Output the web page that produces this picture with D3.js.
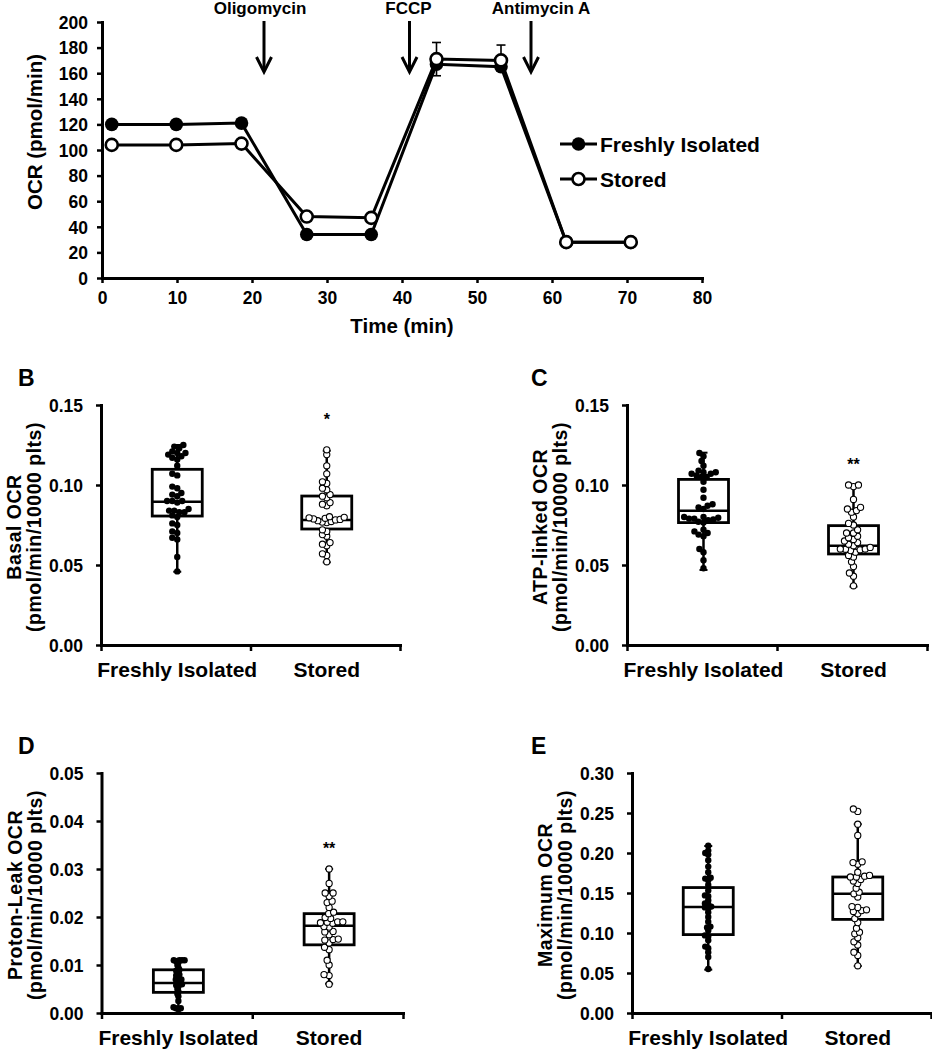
<!DOCTYPE html>
<html><head><meta charset="utf-8">
<script src="https://cdn.jsdelivr.net/npm/d3@7"></script>
<style>
body{margin:0;background:#fff}
svg{display:block}
text{font-family:"Liberation Sans",Arial,sans-serif;font-weight:bold;fill:#000}
</style>
</head><body>
<svg id="c" width="932" height="1050"></svg>
<script>
// ---------------- DATA ----------------
// Panel A
const timeMin   = [1.3, 9.9, 18.6, 27.3, 35.9, 44.6, 53.2, 61.9, 70.5];
const ocrFresh  = [120, 120, 121, 34, 34, 167, 165, 28, 28];
const ocrStored = [104, 104, 105, 48, 47, 171, 170, 28, 28];
const errFresh  = [1.5, 1.5, 1.5, 1.5, 1.5, 9, 3, 1, 1];
const errStored = [1.5, 1.5, 1.5, 1.5, 1.5, 13, 12, 1, 1];
const injections = ["Oligomycin", "FCCP", "Antimycin A"];
const injectionTimes = [21.6, 41.0, 57.2];
const ocrTicks = [0, 20, 40, 60, 80, 100, 120, 140, 160, 180, 200];
const timeTicks = [0, 10, 20, 30, 40, 50, 60, 70, 80];
const seriesNames = ["Freshly Isolated", "Stored"];

// Panels B-E
const categories = ["Freshly Isolated", "Stored"];
const ticksBC = [0, 0.05, 0.10, 0.15];
const ticksD  = [0, 0.01, 0.02, 0.03, 0.04, 0.05];
const ticksE  = [0, 0.05, 0.10, 0.15, 0.20, 0.25, 0.30];

// B: Basal OCR
const basalFresh = [0.125,0.124,0.123,0.121,0.120,0.120,0.119,0.118,0.117,0.116,0.112,0.107,0.106,
  0.099,0.098,0.095,0.094,0.093,0.090,0.090,0.090,0.089,0.085,0.084,0.084,0.083,0.083,
  0.081,0.080,0.076,0.075,0.071,0.070,0.067,0.066,0.055,0.046];
const basalStored = [0.122,0.119,0.112,0.107,0.102,0.101,0.098,0.097,0.094,0.093,0.092,0.089,0.088,0.087,
  0.0802,0.0798,0.0792,0.0788,0.0782,0.0777,0.0772,0.0768,0.0765,0.0785,0.0795,
  0.072,0.071,0.069,0.068,0.064,0.063,0.062,0.057,0.056,0.052];
const basalBoxFresh  = [0.0458, 0.0806, 0.0896, 0.1098, 0.125];   // min, q1, median, q3, max
const basalBoxStored = [0.0517, 0.0725, 0.0781, 0.0931, 0.1214];

// C: ATP-linked OCR
const atpFresh = [0.120,0.118,0.115,0.112,0.109,0.108,0.108,0.107,0.107,0.106,0.105,0.105,0.102,0.097,0.092,
  0.088,0.087,0.086,0.085,0.080,0.080,0.0795,0.079,0.079,0.0785,0.078,0.077,0.0765,
  0.072,0.071,0.070,0.069,0.068,0.060,0.058,0.053,0.048];
const atpStored = [0.100,0.100,0.099,0.091,0.086,0.085,0.084,0.083,0.080,0.076,0.075,0.072,0.070,0.070,
  0.068,0.067,0.066,0.065,0.064,0.063,0.062,0.061,0.060,0.060,0.0598,0.0595,0.059,0.058,
  0.056,0.055,0.052,0.049,0.045,0.043,0.037];
const atpBoxFresh  = [0.0469, 0.0765, 0.0839, 0.1035, 0.1202];
const atpBoxStored = [0.0365, 0.0569, 0.0621, 0.0746, 0.0994];

// D: Proton-Leak OCR
const leakFresh = [0.011,0.011,0.011,0.011,0.0108,0.0105,0.010,0.0095,0.009,0.0088,0.0085,0.008,0.0078,0.0075,
  0.007,0.007,0.0068,0.0065,0.0063,0.006,0.006,0.0058,0.0055,0.005,0.0045,0.004,0.0035,0.0025,
  0.0012,0.001,0.001,0.0008];
const leakStored = [0.030,0.027,0.025,0.025,0.0243,0.0233,0.023,0.022,0.021,0.0207,0.0199,0.0197,0.019,0.019,
  0.0189,0.0188,0.0187,0.018,0.0179,0.017,0.0169,0.0163,0.0154,0.0153,0.0152,0.0146,0.0137,0.0132,
  0.011,0.010,0.008,0.0078,0.006];
const leakBoxFresh  = [0.001, 0.0043, 0.00625, 0.0090, 0.0112];
const leakBoxStored = [0.0061, 0.0142, 0.0182, 0.0207, 0.030];

// E: Maximum OCR
const maxFresh = [0.209,0.203,0.200,0.198,0.191,0.183,0.176,0.169,0.168,0.166,0.160,0.153,0.147,0.146,0.141,
  0.137,0.136,0.133,0.132,0.131,0.126,0.120,0.114,0.108,0.107,0.103,0.097,0.096,0.091,0.083,
  0.081,0.076,0.070,0.055];
const maxStored = [0.255,0.252,0.236,0.222,0.189,0.188,0.186,0.176,0.172,0.171,0.170,0.170,0.167,0.165,0.162,
  0.156,0.151,0.149,0.145,0.133,0.132,0.129,0.128,0.127,0.124,0.118,0.113,0.106,0.101,0.099,
  0.094,0.089,0.085,0.076,0.072,0.059];
const maxBoxFresh  = [0.0542, 0.098, 0.1325, 0.1568, 0.2087];
const maxBoxStored = [0.0587, 0.117, 0.149, 0.170, 0.236];

const sigLabels = ["*", "**", "**", ""];
const sigValues = [0.143, 0.115, 0.035, null];

// ---------------- DRAW ----------------
const svg = d3.select("#c");
const FONT_TICK = 17.5, FONT_TITLE = 20.5;

function styleAxis(g, domainW, tickW) {
  g.select(".domain").attr("stroke", "#000").attr("stroke-width", domainW).attr("stroke-linecap", "square");
  g.selectAll(".tick line").attr("stroke", "#000").attr("stroke-width", tickW);
  g.selectAll(".tick text").style("font-size", FONT_TICK + "px").attr("fill", "#000");
  g.attr("font-family", null).attr("font-size", null);
}

// ===== Panel A =====
const xA = d3.scaleLinear().domain([0, 80]).range([102, 702]);
const yA = d3.scaleLinear().domain([0, 200]).range([278, 22]);

const gAy = svg.append("g").attr("transform", `translate(${xA(0)},0)`)
  .call(d3.axisLeft(yA).tickValues(ocrTicks).tickFormat(d3.format("d")).tickSize(5).tickSizeOuter(0).tickPadding(9));
styleAxis(gAy, 3, 2.5);
gAy.selectAll(".tick text").attr("dy", "0.36em");
const gAx = svg.append("g").attr("transform", `translate(0,${yA(0)})`)
  .call(d3.axisBottom(xA).tickValues(timeTicks).tickFormat(d3.format("d")).tickSize(5).tickSizeOuter(0).tickPadding(9));
styleAxis(gAx, 3, 2.5);

svg.append("text").attr("x", 402).attr("y", 333).attr("text-anchor", "middle")
  .style("font-size", FONT_TITLE + "px").text("Time (min)");
svg.append("text").attr("transform", "translate(42,132) rotate(-90)").attr("text-anchor", "middle")
  .style("font-size", FONT_TITLE + "px").text("OCR (pmol/min)");

// injections
const injLabelDx = [-4, -1, 10];
injections.forEach((name, i) => {
  const x = xA(injectionTimes[i]);
  svg.append("text").attr("x", x + injLabelDx[i]).attr("y", 14).attr("text-anchor", "middle")
    .style("font-size", "17px").text(name);
  svg.append("line").attr("x1", x).attr("x2", x).attr("y1", 21).attr("y2", 71)
    .attr("stroke", "#000").attr("stroke-width", 3);
  svg.append("path").attr("d", `M${x - 7.5},57 L${x},72 L${x + 7.5},57`)
    .attr("fill", "none").attr("stroke", "#000").attr("stroke-width", 3);
});

const lineGen = d3.line().x(d => xA(d[0])).y(d => yA(d[1]));
const freshPts = timeMin.map((t, i) => [t, ocrFresh[i], errFresh[i]]);
const storedPts = timeMin.map((t, i) => [t, ocrStored[i], errStored[i]]);

function errBars(pts, dir) {
  svg.append("g").selectAll("g").data(pts).join("g").each(function (d) {
    const g = d3.select(this);
    const x = xA(d[0]), y0 = yA(d[1]), y1 = yA(d[1] + dir * d[2]);
    g.append("line").attr("x1", x).attr("x2", x).attr("y1", y0).attr("y2", y1).attr("stroke", "#000").attr("stroke-width", 1.6);
    g.append("line").attr("x1", x - 4.5).attr("x2", x + 4.5).attr("y1", y1).attr("y2", y1).attr("stroke", "#000").attr("stroke-width", 1.6);
  });
}
errBars(freshPts, -1);
errBars(storedPts, 1);

svg.append("path").datum(freshPts).attr("d", lineGen).attr("fill", "none").attr("stroke", "#000").attr("stroke-width", 3);
svg.append("path").datum(storedPts).attr("d", lineGen).attr("fill", "none").attr("stroke", "#000").attr("stroke-width", 3);
svg.append("g").selectAll("circle").data(freshPts).join("circle")
  .attr("cx", d => xA(d[0])).attr("cy", d => yA(d[1])).attr("r", 6.8).attr("fill", "#000");
svg.append("g").selectAll("circle").data(storedPts).join("circle")
  .attr("cx", d => xA(d[0])).attr("cy", d => yA(d[1])).attr("r", 6).attr("fill", "#fff")
  .attr("stroke", "#000").attr("stroke-width", 2.6);

// legend
const legY = [144, 179];
seriesNames.forEach((name, i) => {
  const y = legY[i];
  svg.append("line").attr("x1", 560).attr("x2", 597).attr("y1", y).attr("y2", y).attr("stroke", "#000").attr("stroke-width", 3);
  if (i === 0) svg.append("circle").attr("cx", 578.5).attr("cy", y).attr("r", 6.8).attr("fill", "#000");
  else svg.append("circle").attr("cx", 578.5).attr("cy", y).attr("r", 6).attr("fill", "#fff").attr("stroke", "#000").attr("stroke-width", 2.6);
  svg.append("text").attr("x", 600).attr("y", y + 8).style("font-size", "21px").text(name);
});

// ===== Box panels =====
function dodge(values, y, d) {
  const pts = values.map(v => ({ v, y: y(v), x: 0 })).sort((a, b) => b.y - a.y);
  const placed = [];
  for (const p of pts) {
    const cands = [0];
    for (const q of placed) {
      const dy = Math.abs(q.y - p.y);
      if (dy < d) { const dx = Math.sqrt(d * d - dy * dy); cands.push(q.x + dx, q.x - dx); }
    }
    cands.sort((a, b) => Math.abs(a) - Math.abs(b) || a - b);
    for (const c of cands) {
      if (placed.every(q => (q.x - c) ** 2 + (q.y - p.y) ** 2 >= d * d - 1e-6)) { p.x = c; break; }
    }
    placed.push(p);
  }
  return placed;
}

function boxPanel(cfg) {
  const y = d3.scaleLinear().domain([0, cfg.max]).range([cfg.yb, cfg.yt]);
  const xb = d3.scaleBand().domain(categories).range([cfg.x0, cfg.x1]);
  const cx = c => xb(c) + xb.bandwidth() / 2 + 1.5;
  const xl = d3.scaleLinear().domain([0, 2]).range([cfg.x0, cfg.x1]);

  const gy = svg.append("g").attr("transform", `translate(${cfg.x0},0)`)
    .call(d3.axisLeft(y).tickValues(cfg.ticks).tickFormat(d3.format(".2f")).tickSize(5).tickSizeOuter(0).tickPadding(13));
  styleAxis(gy, 3, 2.5);
  gy.selectAll(".tick text").attr("dy", "0.36em");
  const gx = svg.append("g").attr("transform", `translate(0,${cfg.yb})`)
    .call(d3.axisBottom(xl).tickValues([0, 1, 2]).tickFormat("").tickSize(6).tickSizeOuter(0));
  styleAxis(gx, 3, 2.5);

  categories.forEach(c => {
    svg.append("text").attr("x", cx(c)).attr("y", cfg.yb + 32).attr("text-anchor", "middle")
      .style("font-size", "21px").text(c);
  });

  svg.append("text").attr("x", cfg.letterX).attr("y", cfg.yt - 19).style("font-size", "23px").text(cfg.letter);

  const midY = (cfg.yb + cfg.yt) / 2 + 2;
  svg.append("text").attr("transform", `translate(${cfg.x0 - 80},${midY}) rotate(-90)`).attr("text-anchor", "middle")
    .style("font-size", "19.5px").style("letter-spacing", "0.5px").text(cfg.title[0]);
  svg.append("text").attr("transform", `translate(${cfg.x0 - 60},${midY}) rotate(-90)`).attr("text-anchor", "middle")
    .style("font-size", "19.5px").style("letter-spacing", "0.5px").text(cfg.title[1]);

  const groups = [[categories[0], cfg.fresh, cfg.boxF, true, cfg.spread[0]],
                  [categories[1], cfg.stored, cfg.boxS, false, cfg.spread[1]]];
  groups.forEach(([cat, vals, bx, filled, spread]) => {
    const c = cx(cat), hw = 25;
    const g = svg.append("g");
    g.append("line").attr("x1", c).attr("x2", c).attr("y1", y(bx[4])).attr("y2", y(bx[3])).attr("stroke", "#000").attr("stroke-width", 2.5);
    g.append("line").attr("x1", c).attr("x2", c).attr("y1", y(bx[1])).attr("y2", y(bx[0])).attr("stroke", "#000").attr("stroke-width", 2.5);
    [bx[0], bx[4]].forEach(v => g.append("line").attr("x1", c - 4).attr("x2", c + 4).attr("y1", y(v)).attr("y2", y(v)).attr("stroke", "#000").attr("stroke-width", 2));
    g.append("rect").attr("x", c - hw).attr("width", 2 * hw).attr("y", y(bx[3])).attr("height", y(bx[1]) - y(bx[3]))
      .attr("fill", "none").attr("stroke", "#000").attr("stroke-width", 2.8);
    g.append("line").attr("x1", c - hw).attr("x2", c + hw).attr("y1", y(bx[2])).attr("y2", y(bx[2])).attr("stroke", "#000").attr("stroke-width", 2.5);
    const pts = dodge(vals, y, spread);
    g.append("g").selectAll("circle").data(pts).join("circle")
      .attr("cx", d => c + d.x).attr("cy", d => d.y).attr("r", filled ? 3.2 : 3.1)
      .attr("fill", filled ? "#000" : "#fff").attr("stroke", "#000").attr("stroke-width", filled ? 0 : 1.1);
  });

  if (cfg.sig) {
    svg.append("text").attr("x", cx(categories[1])).attr("y", y(cfg.sigV) + 9).attr("text-anchor", "middle")
      .style("font-size", "16px").text(cfg.sig);
  }
}

boxPanel({ letter: "B", letterX: 18, x0: 101, x1: 400, yb: 645, yt: 405, max: 0.15, ticks: ticksBC,
  fresh: basalFresh, stored: basalStored, boxF: basalBoxFresh, boxS: basalBoxStored, spread: [5.2, 4.6],
  title: ["Basal OCR", "(pmol/min/10000 plts)"], sig: sigLabels[0], sigV: sigValues[0] });
boxPanel({ letter: "C", letterX: 531, x0: 627, x1: 927, yb: 645, yt: 405, max: 0.15, ticks: ticksBC,
  fresh: atpFresh, stored: atpStored, boxF: atpBoxFresh, boxS: atpBoxStored, spread: [5.2, 5.2],
  title: ["ATP-linked OCR", "(pmol/min/10000 plts)"], sig: sigLabels[1], sigV: sigValues[1] });
boxPanel({ letter: "D", letterX: 18, x0: 101.5, x1: 403, yb: 1013, yt: 773, max: 0.05, ticks: ticksD,
  fresh: leakFresh, stored: leakStored, boxF: leakBoxFresh, boxS: leakBoxStored, spread: [2.6, 5.2],
  title: ["Proton-Leak OCR", "(pmol/min/10000 plts)"], sig: sigLabels[2], sigV: sigValues[2] });
boxPanel({ letter: "E", letterX: 531, x0: 632, x1: 931, yb: 1013, yt: 773, max: 0.30, ticks: ticksE,
  fresh: maxFresh, stored: maxStored, boxF: maxBoxFresh, boxS: maxBoxStored, spread: [3.4, 5.0],
  title: ["Maximum OCR", "(pmol/min/10000 plts)"], sig: sigLabels[3], sigV: sigValues[3] });
</script>
</body></html>
